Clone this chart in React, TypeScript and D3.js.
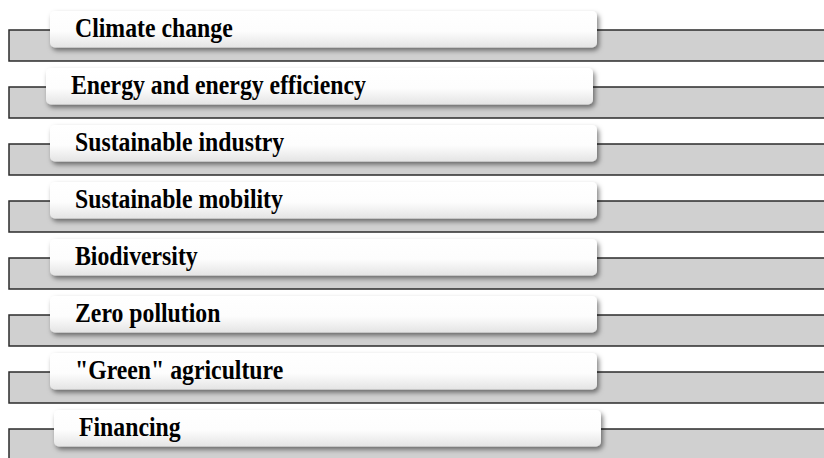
import React from 'react';
import * as d3 from 'd3';

// Topics, top to bottom
const topics = [
  'Climate change',
  'Energy and energy efficiency',
  'Sustainable industry',
  'Sustainable mobility',
  'Biodiversity',
  'Zero pollution',
  '"Green" agriculture',
  'Financing',
];

// slight horizontal shift of each label box (px)
const boxShift = [0, -4, 0, 0, 0, 0, 0, 4];

const App = () => {
  const width = 824;
  const height = 458;
  const bandLeft = 9;
  const bandHeight = 31;
  const boxLeft = 50;
  const boxWidth = 547;
  const boxHeight = 36.5;

  // band top of each row
  const yScale = d3
    .scalePoint<string>()
    .domain(topics)
    .range([30, 429]);

  return (
    <svg
      width={width}
      height={height}
      style={{ position: 'absolute', left: 0, top: 0, background: '#fff' }}
    >
      <defs>
        <linearGradient id="boxFill" x1="0" y1="0" x2="0" y2="1">
          <stop offset="0" stopColor="#ffffff" />
          <stop offset="0.55" stopColor="#fdfdfd" />
          <stop offset="1" stopColor="#e4e4e4" />
        </linearGradient>
        <filter id="shadow" x="-5%" y="-30%" width="115%" height="170%">
          <feDropShadow dx="2" dy="3" stdDeviation="2.5" floodColor="#000" floodOpacity="0.5" />
        </filter>
      </defs>
      {topics.map((t, i) => {
        const y0 = yScale(t) as number;
        const bx = boxLeft + boxShift[i];
        const by = y0 - 19;
        const tx = bx + 25;
        const ty = by + 26;
        return (
          <g key={t}>
            <rect
              x={bandLeft}
              y={y0}
              width={width - bandLeft + 10}
              height={bandHeight}
              fill="#d0d0d0"
              stroke="#2b2b2b"
              strokeWidth={1.5}
            />
            <rect
              x={bx}
              y={by}
              width={boxWidth}
              height={boxHeight}
              rx={5}
              fill="url(#boxFill)"
              filter="url(#shadow)"
            />
            <text
              transform={`translate(${tx},${ty}) scale(0.99,1.1)`}
              fontFamily="'Liberation Serif', 'Times New Roman', serif"
              fontWeight="bold"
              fontSize={24}
              fill="#000"
            >
              {t}
            </text>
          </g>
        );
      })}
    </svg>
  );
};

export default App;
